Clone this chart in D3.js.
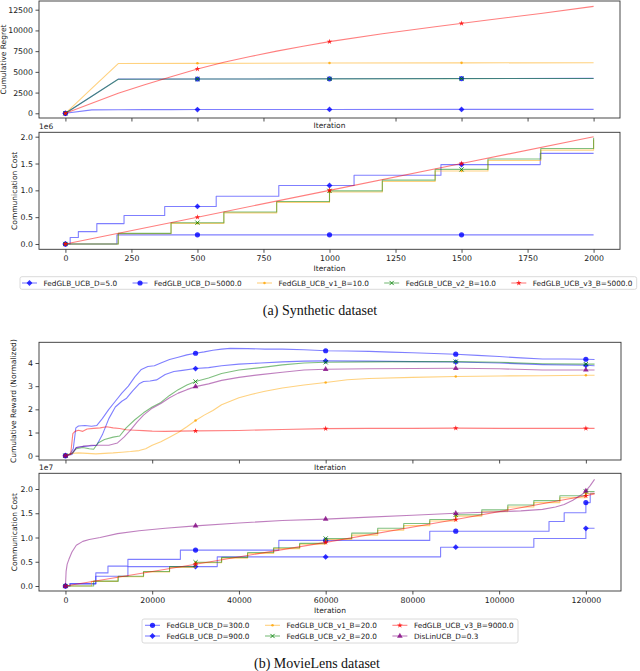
<!DOCTYPE html>
<html><head><meta charset="utf-8">
<script src="https://cdn.jsdelivr.net/npm/d3@7"></script>
<style>body{margin:0;background:#fff}</style>
</head><body>
<svg id="c" width="640" height="671"></svg>
<script>
// ---------------- DATA ----------------
// (a) Synthetic dataset
const synXTicks = [0,250,500,750,1000,1250,1500,1750,2000];
const synMarkIters = [0,500,1000,1500];
const regretTicks = [0,2500,5000,7500,10000,12500];
const synCostTicks = [0,0.5,1.0,1.5,2.0];           // x 1e6
const synLabels = ["FedGLB_UCB_D=5.0","FedGLB_UCB_D=5000.0","FedGLB_UCB_v1_B=10.0","FedGLB_UCB_v2_B=10.0","FedGLB_UCB_v3_B=5000.0"];

const regretD5    = [[0,0],[100,410],[200,430],[300,440],[400,445],[500,450],[700,458],[1000,465],[1500,472],[2000,478]];
const regretD5000 = [[0,0],[100,2060],[200,4120],[500,4135],[1000,4160],[1500,4190],[2000,4210]];
const regretV1    = [[0,0],[100,3000],[200,6000],[500,6030],[1000,6065],[1500,6085],[2000,6100]];
const regretV2    = [[0,0],[100,2050],[200,4100],[500,4130],[1000,4155],[1500,4185],[2000,4205]];
const regretV3    = [[0,0],[100,1220],[200,2420],[300,3450],[400,4400],[500,5350],[600,6150],[700,6850],[800,7500],[900,8100],[1000,8650],[1200,9600],[1400,10450],[1600,11250],[1800,12050],[2000,12900]];

const synCostD5    = [[0,0],[18,0.12],[49,0.23],[119,0.38],[222,0.53],[376,0.70],[571,0.89],[808,1.09],[1093,1.28],[1422,1.48],[1798,1.69],[2000,1.69]];
const synCostD5000 = [[0,0],[195,0.17],[2000,0.17]];
const synCostV1    = [[0,0],[200,0.19],[400,0.385],[600,0.58],[800,0.775],[1000,0.97],[1200,1.165],[1400,1.36],[1600,1.555],[1800,1.75],[2000,1.95]];
const synCostV2    = [[0,0],[200,0.198],[400,0.397],[600,0.595],[800,0.793],[1000,0.99],[1200,1.19],[1400,1.39],[1600,1.585],[1800,1.78],[2000,1.98]];
const synCostV3    = [[0,0],[500,0.5],[1000,1.0],[1500,1.5],[2000,2.0]];

// (b) MovieLens dataset
const mlXTicks = [0,20000,40000,60000,80000,100000,120000];
const mlMarkIters = [0,30000,60000,90000,120000];
const rewardTicks = [0,1,2,3,4];
const mlCostTicks = [0,0.5,1.0,1.5,2.0];            // x 1e7
const mlLabels = ["FedGLB_UCB_D=300.0","FedGLB_UCB_D=900.0","FedGLB_UCB_v1_B=20.0","FedGLB_UCB_v2_B=20.0","FedGLB_UCB_v3_B=9000.0","DisLinUCB_D=0.3"];

const rewD300 = [[0,0],[1000,0.05],[1800,0.3],[2400,1.2],[3000,1.28],[4500,1.3],[6000,1.27],[7200,1.3],[8500,1.6],[10000,2.0],[11500,2.35],[13000,2.7],[14500,3.0],[16000,3.4],[17500,3.72],[19000,3.85],[20500,3.88],[22000,4.0],[24000,4.15],[26000,4.25],[28000,4.35],[30000,4.42],[32000,4.48],[34000,4.55],[36000,4.6],[38000,4.63],[42000,4.62],[46000,4.6],[50000,4.6],[55000,4.57],[60000,4.53],[65000,4.52],[70000,4.5],[75000,4.47],[80000,4.44],[85000,4.41],[90000,4.38],[95000,4.33],[100000,4.28],[105000,4.22],[110000,4.17],[115000,4.17],[120000,4.16],[122000,4.15]];
const rewD900 = [[0,0],[1500,0.05],[2500,0.35],[4000,0.4],[5500,0.42],[7200,0.45],[8500,0.9],[10000,1.6],[11500,2.1],[13000,2.35],[14100,2.48],[15500,2.8],[17000,3.1],[18000,3.2],[19500,3.22],[21000,3.27],[23000,3.5],[25000,3.63],[27000,3.68],[30000,3.76],[33000,3.8],[36000,3.88],[40000,3.95],[45000,4.0],[50000,4.05],[55000,4.08],[60000,4.09],[70000,4.08],[80000,4.06],[90000,4.04],[100000,4.0],[110000,3.93],[120000,3.9],[122000,3.88]];
const rewV1 = [[0,0],[1500,0.1],[3000,0.12],[5000,0.1],[7000,0.08],[9000,0.1],[11000,0.12],[13000,0.15],[15000,0.18],[17000,0.22],[18500,0.3],[20000,0.45],[22000,0.6],[24000,0.8],[26000,1.0],[28000,1.25],[30000,1.52],[32000,1.75],[34000,1.95],[36000,2.2],[38000,2.35],[40000,2.5],[43000,2.65],[46000,2.78],[50000,2.92],[55000,3.05],[60000,3.16],[65000,3.28],[70000,3.33],[80000,3.38],[90000,3.42],[100000,3.44],[110000,3.45],[120000,3.47],[122000,3.47]];
const rewV2 = [[0,0],[1500,0.1],[2500,0.3],[4000,0.35],[5500,0.3],[6500,0.28],[7500,0.55],[9000,0.7],[11000,0.8],[12500,0.85],[14000,1.2],[16000,1.55],[18000,1.85],[20000,2.1],[22000,2.3],[24000,2.6],[26000,2.85],[28000,3.05],[30000,3.2],[33000,3.35],[36000,3.55],[40000,3.7],[45000,3.8],[50000,3.92],[55000,4.0],[60000,4.03],[70000,4.05],[80000,4.06],[90000,4.06],[100000,4.03],[110000,3.97],[120000,3.95],[122000,3.95]];
const rewV3 = [[0,0],[1200,0.05],[1700,0.95],[2200,1.05],[3000,1.1],[4000,1.05],[5000,1.15],[6500,1.18],[8000,1.2],[9500,1.25],[11000,1.2],[12500,1.17],[14000,1.12],[16000,1.1],[18000,1.08],[20000,1.06],[23000,1.05],[26000,1.06],[30000,1.07],[40000,1.09],[50000,1.13],[60000,1.17],[70000,1.18],[80000,1.18],[90000,1.19],[100000,1.18],[110000,1.18],[120000,1.18],[122000,1.18]];
const rewDis = [[0,0],[1500,0.1],[2500,0.35],[4000,0.4],[6000,0.45],[8000,0.45],[10000,0.45],[12000,0.55],[13500,0.8],[15000,1.1],[16500,1.45],[18000,1.75],[20000,2.05],[22000,2.25],[24000,2.5],[26000,2.7],[28000,2.85],[30000,2.98],[33000,3.1],[36000,3.25],[40000,3.38],[45000,3.5],[50000,3.6],[55000,3.7],[60000,3.73],[70000,3.75],[80000,3.76],[90000,3.77],[100000,3.75],[110000,3.7],[120000,3.7],[122000,3.7]];

const mlCostD300 = [[0,0],[1000,0.05],[7000,0.27],[9800,0.41],[14400,0.55],[26500,0.74],[49200,0.94],[84000,1.13],[111500,1.33],[115000,1.51],[120000,1.72],[121000,1.91],[122000,1.91]];
const mlCostD900 = [[0,0],[1100,0.04],[7000,0.2],[14400,0.4],[35000,0.6],[86500,0.8],[108000,0.98],[120000,1.19],[122000,1.19]];
const mlCostV1 = [[0,0],[6000,0.095],[12000,0.19],[18000,0.29],[24000,0.385],[30000,0.48],[36000,0.575],[42000,0.67],[48000,0.77],[54000,0.86],[60000,0.96],[66000,1.05],[72000,1.15],[78000,1.245],[84000,1.34],[90000,1.44],[96000,1.53],[102000,1.63],[108000,1.72],[114000,1.82],[120000,1.91],[122000,1.91]];
const mlCostV2 = [[0,0],[6500,0.1],[12200,0.2],[18000,0.3],[24000,0.4],[30000,0.49],[36000,0.59],[42000,0.69],[48000,0.79],[54000,0.88],[60000,0.98],[66000,1.09],[72000,1.19],[78000,1.29],[84000,1.37],[90000,1.47],[96000,1.57],[102000,1.67],[108000,1.76],[114000,1.86],[120000,1.95],[122000,1.95]];
const mlCostV3 = [[0,0],[30000,0.45],[60000,0.9],[90000,1.37],[120000,1.86],[122000,1.9]];
const mlCostDis = [[0,0],[150,0.3],[400,0.45],[800,0.55],[1500,0.7],[2500,0.84],[4000,0.92],[5500,0.96],[8000,1.0],[12000,1.08],[17000,1.14],[23000,1.19],[30000,1.24],[40000,1.3],[50000,1.35],[60000,1.38],[70000,1.42],[80000,1.46],[90000,1.5],[100000,1.53],[105000,1.55],[110000,1.58],[113000,1.63],[115000,1.68],[117000,1.77],[119000,1.88],[120000,1.96],[121000,2.07],[122000,2.2]];

// ---------------- STYLE ----------------
const COL = {blue:"#0000ff", orange:"#ffa500", green:"#008000", red:"#ff0000", purple:"#800080"};
const FONT = "DejaVu Sans, sans-serif";
const LINE_OP = 0.5, MARK_OP = 0.8;

const svg = d3.select("#c");

function valueAt(pts, x, step){
  if (x <= pts[0][0]) return pts[0][1];
  for (let i=0;i<pts.length-1;i++){
    if (x >= pts[i][0] && x < pts[i+1][0]){
      if (step) return pts[i][1];
      const t=(x-pts[i][0])/(pts[i+1][0]-pts[i][0]);
      return pts[i][1]+t*(pts[i+1][1]-pts[i][1]);
    }
  }
  return pts[pts.length-1][1];
}

function drawMarker(g, type, x, y, color, op){
  if (type==='x'){
    const s=2.1;
    g.append('path').attr('d',`M${x-s},${y-s}L${x+s},${y+s}M${x-s},${y+s}L${x+s},${y-s}`)
      .attr('stroke',color).attr('stroke-width',1).attr('fill','none').attr('opacity',op);
    return;
  }
  let sym, size, rot=0;
  if (type==='o'){sym=d3.symbolCircle; size=21;}
  else if (type==='D'){sym=d3.symbolSquare; size=17; rot=45;}
  else if (type==='.'){sym=d3.symbolCircle; size=5;}
  else if (type==='*'){sym=d3.symbolStar; size=10;}
  else if (type==='^'){sym=d3.symbolTriangle; size=14;}
  g.append('path').attr('d', d3.symbol(sym,size)())
    .attr('transform',`translate(${x},${y}) rotate(${rot})`)
    .attr('fill',color).attr('opacity',op);
}

function panel(cfg){
  const x = d3.scaleLinear().domain(cfg.xDomain).range([cfg.left, cfg.right]);
  const y = d3.scaleLinear().domain(cfg.yDomain).range([cfg.bottom, cfg.top]);
  const g = svg.append('g');
  const clipId = 'clip'+cfg.id;
  svg.append('clipPath').attr('id',clipId).append('rect')
    .attr('x',cfg.left).attr('y',cfg.top).attr('width',cfg.right-cfg.left).attr('height',cfg.bottom-cfg.top);
  const plot = g.append('g').attr('clip-path',`url(#${clipId})`);
  cfg.series.forEach(s=>{
    const line = d3.line().x(d=>x(d[0])).y(d=>y(d[1])).curve(s.step?d3.curveStepAfter:d3.curveLinear);
    plot.append('path').attr('d', line(s.data)).attr('fill','none')
      .attr('stroke', s.color).attr('stroke-width',1.1).attr('opacity',LINE_OP)
      .attr('stroke-linejoin','round');
    cfg.marks.forEach(m=>{
      drawMarker(plot, s.marker, x(m), y(valueAt(s.data, m, s.step)), s.color, MARK_OP);
    });
  });
  // axes
  const xAxis = d3.axisBottom(x).tickValues(cfg.xTicks).tickSize(3.5).tickPadding(2.5)
    .tickFormat(cfg.showXLabels ? d3.format('d') : ()=>'');
  const yAxis = d3.axisLeft(y).tickValues(cfg.yTicks).tickSize(3.5).tickPadding(2.5).tickFormat(cfg.yFmt);
  const gx = g.append('g').attr('transform',`translate(0,${cfg.bottom})`).call(xAxis);
  const gy = g.append('g').attr('transform',`translate(${cfg.left},0)`).call(yAxis);
  [gx,gy].forEach(a=>{
    a.select('.domain').remove();
    a.selectAll('line').attr('stroke','#222').attr('stroke-width',0.8);
    a.selectAll('text').attr('font-family',FONT).attr('font-size',7.8).attr('fill','#222');
  });
  // frame
  g.append('rect').attr('x',cfg.left).attr('y',cfg.top).attr('width',cfg.right-cfg.left)
    .attr('height',cfg.bottom-cfg.top).attr('fill','none').attr('stroke','#333').attr('stroke-width',0.9);
  // labels
  g.append('text').attr('x',(cfg.left+cfg.right)/2).attr('y',cfg.xLabelY).attr('text-anchor','middle')
    .attr('font-family',FONT).attr('font-size',7.5).attr('fill','#222').text('Iteration');
  g.append('text').attr('transform',`translate(${cfg.yLabelX},${(cfg.top+cfg.bottom)/2}) rotate(-90)`)
    .attr('text-anchor','middle').attr('font-family',FONT).attr('font-size',7.5).attr('fill','#222').text(cfg.yLabel);
  if (cfg.offset){
    g.append('text').attr('x',cfg.left).attr('y',cfg.top-3).attr('font-family',FONT)
      .attr('font-size',7.5).attr('fill','#222').text(cfg.offset);
  }
}

const f1 = d=>d3.format('.1f')(d);
const synX = [-100,2100], mlX = [-6100,128100];

panel({id:1, left:39, right:620, top:1, bottom:118, xDomain:synX, yDomain:[-567,13550],
  xTicks:synXTicks, yTicks:regretTicks, yFmt:d3.format('d'), showXLabels:false, marks:synMarkIters,
  xLabelY:128, yLabel:'Cumulative Regret', yLabelX:5.5,
  series:[
    {data:regretD5, color:COL.blue, marker:'D'},
    {data:regretD5000, color:COL.blue, marker:'o'},
    {data:regretV1, color:COL.orange, marker:'.'},
    {data:regretV2, color:COL.green, marker:'x'},
    {data:regretV3, color:COL.red, marker:'*'}]});

panel({id:2, left:39, right:620, top:132.3, bottom:249.3, xDomain:synX, yDomain:[-0.099,2.082],
  xTicks:synXTicks, yTicks:synCostTicks, yFmt:f1, showXLabels:true, marks:synMarkIters,
  xLabelY:271, yLabel:'Communication Cost', yLabelX:17, offset:'1e6',
  series:[
    {data:synCostD5, color:COL.blue, marker:'D', step:true},
    {data:synCostD5000, color:COL.blue, marker:'o', step:true},
    {data:synCostV1, color:COL.orange, marker:'.', step:true},
    {data:synCostV2, color:COL.green, marker:'x', step:true},
    {data:synCostV3, color:COL.red, marker:'*'}]});

panel({id:3, left:39, right:621, top:342.3, bottom:460, xDomain:mlX, yDomain:[-0.186,4.893],
  xTicks:mlXTicks, yTicks:rewardTicks, yFmt:d3.format('d'), showXLabels:false, marks:mlMarkIters,
  xLabelY:469.5, yLabel:'Cumulative Reward (Normalized)', yLabelX:15.5,
  series:[
    {data:rewD300, color:COL.blue, marker:'o'},
    {data:rewD900, color:COL.blue, marker:'D'},
    {data:rewV1, color:COL.orange, marker:'.'},
    {data:rewV2, color:COL.green, marker:'x'},
    {data:rewV3, color:COL.red, marker:'*'},
    {data:rewDis, color:COL.purple, marker:'^'}]});

panel({id:4, left:39, right:621, top:473.3, bottom:591, xDomain:mlX, yDomain:[-0.103,2.324],
  xTicks:mlXTicks, yTicks:mlCostTicks, yFmt:f1, showXLabels:true, marks:mlMarkIters,
  xLabelY:613, yLabel:'Communication Cost', yLabelX:17, offset:'1e7',
  series:[
    {data:mlCostD300, color:COL.blue, marker:'o', step:true},
    {data:mlCostD900, color:COL.blue, marker:'D', step:true},
    {data:mlCostV1, color:COL.orange, marker:'.', step:true},
    {data:mlCostV2, color:COL.green, marker:'x', step:true},
    {data:mlCostV3, color:COL.red, marker:'*'},
    {data:mlCostDis, color:COL.purple, marker:'^'}]});

// ---------------- LEGENDS ----------------
function legendItem(g, x, y, label, color, marker){
  g.append('line').attr('x1',x).attr('x2',x+15).attr('y1',y).attr('y2',y)
    .attr('stroke',color).attr('stroke-width',1.1).attr('opacity',LINE_OP);
  drawMarker(g, marker, x+7.5, y, color, MARK_OP);
  const t = g.append('text').attr('x',x+21.5).attr('y',y+2.6).attr('font-family',FONT)
    .attr('font-size',7.3).attr('fill','#222').text(label);
  return t.node().getComputedTextLength();
}

// legend (a)
{
  const g = svg.append('g');
  g.append('rect').attr('x',20).attr('y',276.7).attr('width',616.7).attr('height',12.6)
    .attr('rx',2).attr('fill','#fff').attr('stroke','#d0d0d0').attr('stroke-width',0.8);
  const syms = ['D','o','.','x','*'];
  const cols = [COL.blue,COL.blue,COL.orange,COL.green,COL.red];
  let x = 22;
  synLabels.forEach((l,i)=>{
    const w = legendItem(g, x, 283, l, cols[i], syms[i]);
    x += 21.5 + w + 15.3;
  });
}
// legend (b)
{
  const g = svg.append('g');
  g.append('rect').attr('x',142).attr('y',619).attr('width',376).attr('height',24)
    .attr('rx',2).attr('fill','#fff').attr('stroke','#d0d0d0').attr('stroke-width',0.8);
  const syms = ['o','D','.','x','*','^'];
  const cols = [COL.blue,COL.blue,COL.orange,COL.green,COL.red,COL.purple];
  let x = 145;
  for (let c=0;c<3;c++){
    let maxW = 0;
    for (let r=0;r<2;r++){
      const i = c*2+r;
      const w = legendItem(g, x, 625.3 + r*10.7, mlLabels[i], cols[i], syms[i]);
      maxW = Math.max(maxW, w);
    }
    x += 21.5 + maxW + 15.5;
  }
}

// captions
svg.append('text').attr('x',320).attr('y',315).attr('text-anchor','middle')
  .attr('font-family','Liberation Serif, serif').attr('font-size',14).attr('fill','#111')
  .text('(a) Synthetic dataset');
svg.append('text').attr('x',317).attr('y',667.5).attr('text-anchor','middle')
  .attr('font-family','Liberation Serif, serif').attr('font-size',14).attr('fill','#111')
  .text('(b) MovieLens dataset');
</script>
</body></html>
